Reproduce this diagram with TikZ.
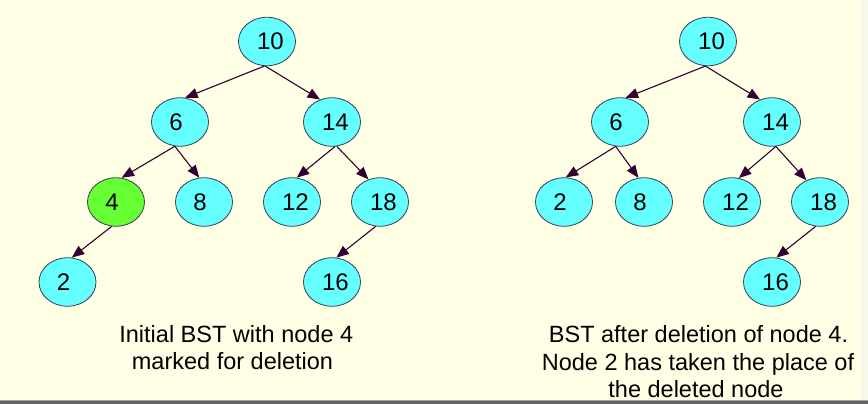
\documentclass[tikz,border=0pt]{standalone}
\usepackage{fontspec}
\setmainfont{Liberation Sans}
\usetikzlibrary{shapes.geometric,arrows.meta}
\definecolor{bgcol}{RGB}{255,255,229}
\definecolor{cyanfill}{RGB}{102,255,255}
\definecolor{greenfill}{RGB}{102,255,51}
\definecolor{outl}{RGB}{60,60,90}
\definecolor{arrcol}{RGB}{51,0,51}
\definecolor{barcol}{RGB}{100,100,100}
\definecolor{barlight}{RGB}{165,165,165}
\definecolor{bandcol}{RGB}{248,248,234}
\newcommand{\twod}[1]{\hspace*{7pt}#1}
\newcommand{\oned}[1]{#1\hspace*{8pt}}
\begin{document}
\begin{tikzpicture}[x=1pt,y=-1pt,
  bst/.style={ellipse, draw=outl, line width=0.8pt, fill=cyanfill,
    minimum width=57pt, minimum height=48.5pt, inner sep=0pt,
    font=\fontsize{24}{28}\selectfont},
  delnode/.style={bst, fill=greenfill},
  link/.style={draw=arrcol, line width=1.1pt, -{Triangle[length=12.5pt,width=10pt]}},
  captxt/.style={anchor=base, inner sep=0pt, font=\fontsize{23.5}{27.5}\selectfont}]
\fill[bgcol] (0,0) rectangle (868,404);
\fill[bandcol] (861,0) rectangle (868,400);
\fill[barlight] (0,400) rectangle (868,401.3);
\fill[barcol] (0,401.3) rectangle (868,404);
\useasboundingbox (0,0) rectangle (868,404);

% left tree
\node[bst] (L10) at (267,41.5) {\twod{10}};
\node[bst] (L6) at (180,122) {\oned{6}};
\node[bst] (L14) at (332,122) {\twod{14}};
\node[delnode] (L4) at (116,202) {\oned{4}};
\node[bst] (L8) at (204,202) {\oned{8}};
\node[bst] (L12) at (292,202) {\twod{12}};
\node[bst] (L18) at (380,202) {\twod{18}};
\node[bst] (L2) at (67.5,282) {\oned{2}};
\node[bst] (L16) at (332,282) {\twod{16}};

\draw[link] (L10.264) -- (L6.78);
\draw[link] (L10.266) -- (L14.118);
\draw[link] (L6.258) -- (L4.77);
\draw[link] (L6.258) -- (L8.101);
\draw[link] (L14.277) -- (L12.79);
\draw[link] (L14.281) -- (L18.117);
\draw[link] (L4.260) -- (L2.80);
\draw[link] (L18.260) -- (L16.80);

% right tree
\node[bst] (R10) at (708,41.5) {\twod{10}};
\node[bst] (R6) at (620,122) {\oned{6}};
\node[bst] (R14) at (772,122) {\twod{14}};
\node[bst] (R2) at (564,202) {\oned{2}};
\node[bst] (R8) at (644,202) {\oned{8}};
\node[bst] (R12) at (732,202) {\twod{12}};
\node[bst] (R18) at (820,202) {\twod{18}};
\node[bst] (R16) at (772,282) {\twod{16}};

\draw[link] (R10.264) -- (R6.77);
\draw[link] (R10.264) -- (R14.118);
\draw[link] (R6.260) -- (R2.86);
\draw[link] (R6.260) -- (R8.103);
\draw[link] (R14.279) -- (R12.74);
\draw[link] (R14.279) -- (R18.122);
\draw[link] (R18.260) -- (R16.80);

% captions
\node[captxt] (capL1) at (236.3,342.3) {Initial BST with node 4};
\node[captxt] (capL2) at (232.5,369.8) {marked for deletion};
\node[captxt] (capR1) at (698.5,342.8) {BST after deletion of node 4.};
\node[captxt] (capR2) at (698,370.3) {Node 2 has taken the place of};
\node[captxt] (capR3) at (696,397.8) {the deleted node};
\end{tikzpicture}
\end{document}
